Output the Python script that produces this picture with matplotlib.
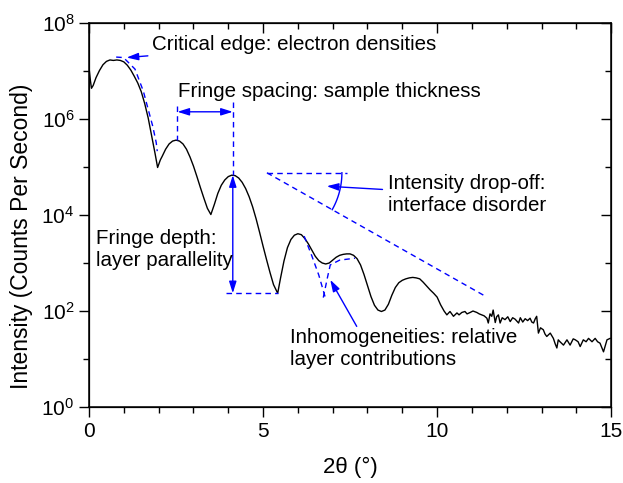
import numpy as np
import matplotlib
matplotlib.use("Agg")
import matplotlib.pyplot as plt

plt.rcParams['font.family'] = ['Liberation Sans', 'DejaVu Sans']
plt.rcParams['mathtext.fontset'] = 'custom'
plt.rcParams['mathtext.rm'] = 'Liberation Sans'
plt.rcParams['mathtext.it'] = 'Liberation Sans:italic'
plt.rcParams['mathtext.bf'] = 'Liberation Sans:bold'

# Reflectivity scan: 2-theta (degrees) and log10 of count rate
two_theta = [
    0.00, 0.04, 0.07, 0.12, 0.2, 0.3, 0.4, 0.5, 0.6, 0.7, 0.8, 0.9, 1.0,
    1.1, 1.2, 1.3, 1.4, 1.5, 1.6, 1.7, 1.8, 1.9, 1.97, 2.05, 2.1, 2.2, 2.3,
    2.4, 2.5, 2.6, 2.7, 2.8, 2.9, 3.0, 3.1, 3.2, 3.3, 3.4, 3.5, 3.6, 3.7,
    3.8, 3.9, 4.0, 4.1, 4.2, 4.3, 4.4, 4.5, 4.6, 4.7, 4.8, 4.9, 5.0, 5.1,
    5.2, 5.3, 5.42, 5.5, 5.6, 5.7, 5.8, 5.9, 6.0, 6.1, 6.2, 6.3, 6.4, 6.5,
    6.6, 6.7, 6.8, 6.9, 7.0, 7.1, 7.2, 7.3, 7.4, 7.5, 7.6, 7.7, 7.8, 7.9,
    8.0, 8.1, 8.2, 8.3, 8.4, 8.5, 8.6, 8.7, 8.8, 8.9, 9.0, 9.1, 9.2, 9.3,
    9.4, 9.5, 9.6, 9.7, 9.8, 9.9, 10.0, 10.1, 10.2,
    10.23, 10.28, 10.37, 10.47, 10.57, 10.63, 10.71, 10.80, 10.86, 10.95,
    11.03, 11.14, 11.21, 11.28, 11.35, 11.43, 11.47, 11.52, 11.57, 11.61,
    11.67, 11.71, 11.76, 11.81, 11.87, 11.95, 12.03, 12.10, 12.17, 12.24,
    12.34, 12.39, 12.46, 12.53, 12.60, 12.67, 12.72, 12.77, 12.82, 12.86,
    12.91, 12.97, 13.05, 13.10, 13.15, 13.25, 13.34, 13.39, 13.44, 13.48,
    13.53, 13.63, 13.73, 13.78, 13.82, 13.91, 13.97, 14.05, 14.11, 14.20,
    14.28, 14.35, 14.45, 14.54, 14.61, 14.68, 14.78, 14.88, 14.97,
]
log_counts = [
    7.07, 6.80, 6.64, 6.70, 6.86, 7.01, 7.13, 7.20, 7.23, 7.22, 7.23, 7.22, 7.19,
    7.12, 7.02, 6.89, 6.75, 6.57, 6.32, 6.02, 5.65, 5.27, 4.99, 5.15, 5.22, 5.37, 5.48,
    5.54, 5.56, 5.54, 5.48, 5.37, 5.21, 5.02, 4.80, 4.57, 4.35, 4.14, 4.01, 4.22, 4.45,
    4.62, 4.73, 4.80, 4.83, 4.82, 4.77, 4.68, 4.55, 4.38, 4.17, 3.92, 3.64, 3.35, 3.07,
    2.80, 2.55, 2.37, 2.68, 3.04, 3.32, 3.49, 3.58, 3.61, 3.59, 3.51, 3.40, 3.27, 3.14,
    3.05, 3.00, 2.98, 3.00, 3.06, 3.12, 3.16, 3.18, 3.19, 3.19, 3.16, 3.09, 2.96, 2.76,
    2.53, 2.30, 2.12, 2.02, 1.99, 2.02, 2.14, 2.33, 2.49, 2.59, 2.64, 2.67, 2.69, 2.70,
    2.69, 2.67, 2.60, 2.52, 2.44, 2.37, 2.29, 2.13, 2.00,
    1.97, 1.92, 1.99, 1.89, 1.96, 1.92, 1.97, 1.99, 1.94, 1.97,
    2.00, 1.97, 1.94, 1.92, 1.90, 1.85, 1.75, 1.94, 1.89, 2.02,
    1.76, 1.88, 1.92, 1.75, 1.86, 1.82, 1.88, 1.78, 1.86, 1.83,
    1.75, 1.86, 1.77, 1.84, 1.80, 1.85, 1.77, 1.75, 1.84, 1.89,
    1.54, 1.65, 1.61, 1.52, 1.47, 1.54, 1.43, 1.32, 1.23, 1.40,
    1.36, 1.29, 1.40, 1.34, 1.29, 1.42, 1.40, 1.36, 1.26, 1.40,
    1.36, 1.43, 1.36, 1.43, 1.36, 1.33, 1.15, 1.40, 1.43,
]

# Guide lines (2-theta, log10 counts)
edge_x = [0.78, 0.99, 1.32, 1.56, 1.70, 1.83, 1.93, 1.96]
edge_y = [7.29, 7.28, 7.04, 6.58, 6.20, 5.85, 5.51, 5.33]
comp_a_x = [6.18, 6.40, 6.60, 6.78]
comp_a_y = [3.56, 3.15, 2.75, 2.30]
comp_b_x = [6.73, 6.85, 6.93, 7.20, 7.64]
comp_b_y = [2.28, 2.70, 2.96, 3.06, 3.10]

P = lambda v: 10.0 ** np.asarray(v)

fig = plt.figure(figsize=(6.23, 4.83), dpi=100)
ax = fig.add_axes([0.1429, 0.1573, 0.981 - 0.1429, 0.9524 - 0.1573])

ax.plot(two_theta, P(log_counts), color='black', lw=1.0)
ax.set_yscale('log')
ax.set_xlim(0, 15)
ax.set_ylim(1, 1e8)

blue = '#0000ff'
dash = dict(color=blue, lw=1.0, ls=(0, (4, 3)))
FS = 14.8
head = '-|>,head_length=0.7,head_width=0.22'
head2 = '<|-|>,head_length=0.7,head_width=0.22'

# Critical edge
ax.plot(edge_x, P(edge_y), **dash)
ax.annotate('Critical edge: electron densities', xy=(1.08, 10**7.28),
            xytext=(1.81, 10**7.56), ha='left', va='center', fontsize=FS,
            arrowprops=dict(arrowstyle=head, mutation_scale=10, color=blue,
                            lw=1, shrinkA=1, shrinkB=0))

# Fringe spacing
ax.plot([2.54, 2.54], P([6.28, 5.56]), **dash)
ax.plot([4.13, 4.13], P([6.36, 4.83]), **dash)
ax.annotate('', xy=(2.54, 10**6.15), xytext=(4.13, 10**6.15),
            arrowprops=dict(arrowstyle=head2, mutation_scale=10, color=blue,
                            lw=1, shrinkA=0, shrinkB=0))
ax.text(2.56, 10**6.58, 'Fringe spacing: sample thickness', ha='left',
        va='center', fontsize=FS)

# Fringe depth
ax.plot([3.94, 5.42], P([2.37, 2.37]), **dash)
ax.annotate('', xy=(4.13, 10**4.83), xytext=(4.13, 10**2.37),
            arrowprops=dict(arrowstyle=head2, mutation_scale=10, color=blue,
                            lw=1, shrinkA=0, shrinkB=0))
ax.text(0.2, 10**3.29, 'Fringe depth:\nlayer parallelity', ha='left',
        va='center', fontsize=FS, linespacing=1.2)

# Intensity drop-off
x0, y0 = 5.11, 10**4.88
x1, y1 = 11.43, 10**2.29
ax.plot([x0, 7.41], [y0, y0], **dash)
ax.plot([x0, x1], [y0, y1], **dash)
c = ax.transData.transform((x0, y0))
e = ax.transData.transform((x1, y1))
ang = np.arctan2(e[1] - c[1], e[0] - c[0])
t = np.linspace(0, ang, 40)
r = 75.0
arc_disp = np.column_stack([c[0] + r * np.cos(t), c[1] + r * np.sin(t)])
arc = ax.transData.inverted().transform(arc_disp)
ax.plot(arc[:, 0], arc[:, 1], color=blue, lw=1)
ax.annotate('Intensity drop-off:\ninterface disorder', xy=(6.83, 10**4.60),
            xytext=(8.59, 10**4.43), ha='left', va='center', fontsize=FS,
            linespacing=1.2,
            arrowprops=dict(arrowstyle=head, mutation_scale=10, color=blue,
                            lw=1, shrinkA=2, shrinkB=0))

# Inhomogeneities
ax.plot(comp_a_x, P(comp_a_y), **dash)
ax.plot(comp_b_x, P(comp_b_y), **dash)
ax.annotate('', xy=(6.93, 10**2.65), xytext=(7.69, 10**1.68),
            arrowprops=dict(arrowstyle=head, mutation_scale=10, color=blue,
                            lw=1, shrinkA=0, shrinkB=0))
ax.text(5.78, 10**1.21, 'Inhomogeneities: relative\nlayer contributions',
        ha='left', va='center', fontsize=FS, linespacing=1.2)

# Axes styling
ax.set_xticks([0, 5, 10, 15])
ax.set_xticks(range(0, 16), minor=True)
ax.set_yticks([1, 1e2, 1e4, 1e6, 1e8])
ax.set_yticklabels(['$10^{0}$', '$10^{2}$', '$10^{4}$', '$10^{6}$', '$10^{8}$'])
ax.set_yticks([10.0 ** k for k in (1, 3, 5, 7)], minor=True)
ax.yaxis.set_minor_formatter(matplotlib.ticker.NullFormatter())
ax.tick_params(which='major', direction='out', length=7, width=1,
               labelsize=15)
ax.tick_params(which='minor', direction='out', length=4, width=1)
for s in ax.spines.values():
    s.set_linewidth(1.1)

axt = ax.twiny()
axt.set_xlim(0, 15)
axt.set_xticks([0, 5, 10, 15])
axt.set_xticks(range(0, 16), minor=True)
axt.tick_params(which='major', direction='in', length=7, width=1, labeltop=False)
axt.tick_params(which='minor', direction='in', length=4, width=1)
axr = ax.twinx()
axr.set_yscale('log')
axr.set_ylim(1, 1e8)
axr.set_yticks([1, 1e2, 1e4, 1e6, 1e8])
axr.set_yticks([10.0 ** k for k in (1, 3, 5, 7)], minor=True)
axr.tick_params(which='major', direction='in', length=7, width=1, labelright=False)
axr.tick_params(which='minor', direction='in', length=4, width=1, labelright=False)

ax.set_xlabel('2θ (°)', fontsize=16, labelpad=12)
ax.set_ylabel('Intensity (Counts Per Second)', fontsize=16.5)
ax.yaxis.set_label_coords(-0.107, 0.445)

fig.savefig('out.png', dpi=100)
